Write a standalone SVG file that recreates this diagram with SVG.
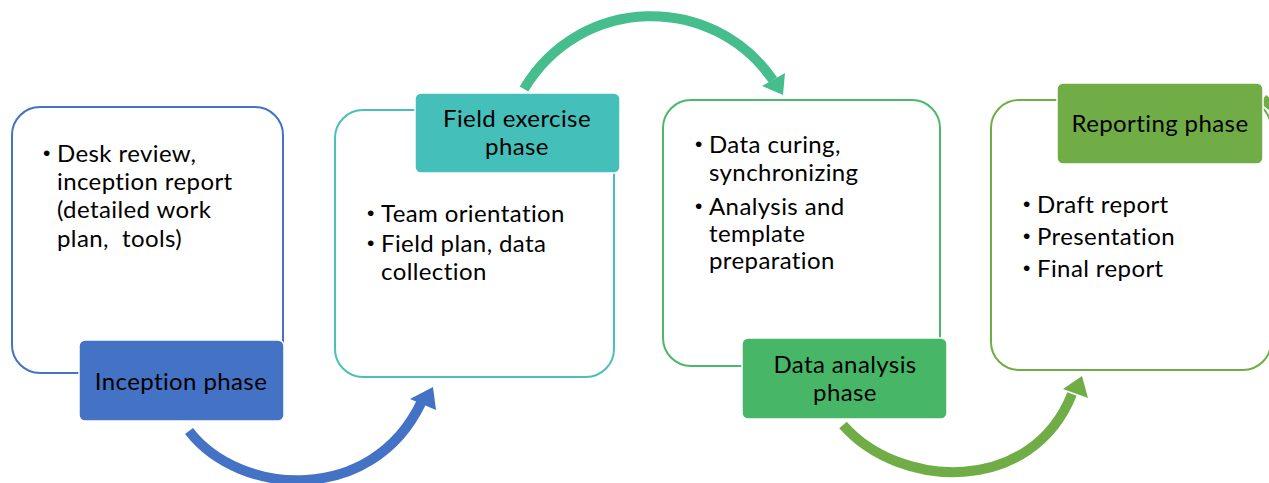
<svg xmlns="http://www.w3.org/2000/svg" width="1269" height="483" viewBox="0 0 1269 483">
  <style>
    .frame { fill: #ffffff; stroke-width: 2; }
    .label { stroke: #ffffff; stroke-width: 1.5; }
    .t { font-family: Lato, "Liberation Sans", sans-serif; font-size: 24px; letter-spacing: 0.4px; fill: #000000; white-space: pre; }
    .b { font-family: "Liberation Sans", sans-serif; font-size: 21px; fill: #000000; }
    .c { text-anchor: middle; }
    .arc { fill: none; stroke-width: 10; }
  </style>
  <rect width="1269" height="483" fill="#ffffff"/>

  <!-- connectors -->
  <g id="connectors">
    <path class="arc" stroke="#4472C4" d="M189,431 C240,497 372,505 421,403"/>
    <polygon fill="#4472C4" points="433,387 410,399 436,410"/>
    <path class="arc" stroke="#46BD8D" d="M524,89 C580,-5 712,-8 773,80"/>
    <polygon fill="#46BD8D" points="783,95 762,86 785,73"/>
    <path class="arc" stroke="#70AD47" d="M843,425 C900,490 1032,495 1072,394"/>
    <polygon fill="#70AD47" points="1082,376 1063,389 1088,398"/>
    <path class="arc" stroke="#70AD47" stroke-width="4" d="M1263,99 L1272,106"/>
  </g>

  <!-- Inception phase -->
  <g id="inception">
    <rect class="frame" x="12" y="107" width="271" height="266" rx="28" stroke="#4472C4"/>
    <rect class="label" x="79" y="340" width="205" height="81" rx="6" fill="#4472C4"/>
    <text class="t c" x="181" y="390">Inception phase</text>
    <text class="b" x="43" y="160">•</text>
    <text class="t" x="57" y="162">Desk review,</text>
    <text class="t" x="57" y="190">inception report</text>
    <text class="t" x="57" y="218">(detailed work</text>
    <text class="t" x="57" y="247">plan,  tools)</text>
  </g>

  <!-- Field exercise phase -->
  <g id="field">
    <rect class="frame" x="335" y="110" width="279" height="267" rx="28" stroke="#4BC0B8"/>
    <rect class="label" x="415" y="93" width="205" height="80" rx="6" fill="#45BFB9"/>
    <text class="t c" x="517" y="127">Field exercise</text>
    <text class="t c" x="517" y="155">phase</text>
    <text class="b" x="367" y="220">•</text>
    <text class="t" x="381" y="222">Team orientation</text>
    <text class="b" x="367" y="250">•</text>
    <text class="t" x="381" y="252">Field plan, data</text>
    <text class="t" x="381" y="280">collection</text>
  </g>

  <!-- Data analysis phase -->
  <g id="analysis">
    <rect class="frame" x="663" y="100" width="277" height="266" rx="28" stroke="#4DB86C"/>
    <rect class="label" x="742" y="338" width="205" height="81" rx="6" fill="#47B767"/>
    <text class="t c" x="845" y="373">Data analysis</text>
    <text class="t c" x="845" y="401">phase</text>
    <text class="b" x="695" y="151">•</text>
    <text class="t" x="709" y="153">Data curing,</text>
    <text class="t" x="709" y="181">synchronizing</text>
    <text class="b" x="695" y="213">•</text>
    <text class="t" x="709" y="215">Analysis and</text>
    <text class="t" x="709" y="242">template</text>
    <text class="t" x="709" y="269">preparation</text>
  </g>

  <!-- Reporting phase -->
  <g id="reporting">
    <rect class="frame" x="991" y="100" width="280" height="270" rx="28" stroke="#70AD47"/>
    <rect class="label" x="1057" y="83" width="206" height="81" rx="6" fill="#70AD47"/>
    <text class="t c" x="1160" y="132">Reporting phase</text>
    <text class="b" x="1023" y="211">•</text>
    <text class="t" x="1037" y="213">Draft report</text>
    <text class="b" x="1023" y="243">•</text>
    <text class="t" x="1037" y="245">Presentation</text>
    <text class="b" x="1023" y="275">•</text>
    <text class="t" x="1037" y="277">Final report</text>
  </g>
</svg>
